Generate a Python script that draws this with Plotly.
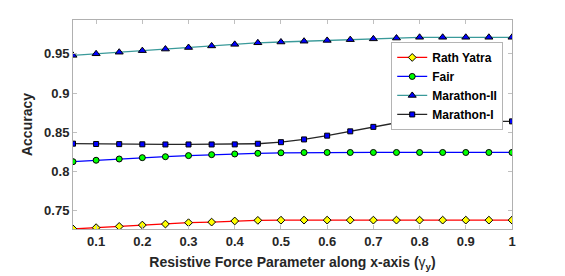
import plotly.graph_objects as go

x = [0.05, 0.1, 0.15, 0.2, 0.25, 0.3, 0.35, 0.4, 0.45, 0.5,
     0.55, 0.6, 0.65, 0.7, 0.75, 0.8, 0.85, 0.9, 0.95, 1.0]

rath_yatra = [0.7271, 0.7287, 0.7303, 0.7320, 0.7333, 0.7350, 0.7358, 0.7372, 0.7380, 0.7382,
              0.7383, 0.7383, 0.7383, 0.7383, 0.7383, 0.7383, 0.7383, 0.7383, 0.7383, 0.7383]
fair = [0.8127, 0.8145, 0.8161, 0.8178, 0.8190, 0.8204, 0.8216, 0.8225, 0.8233, 0.8240,
        0.8243, 0.8244, 0.8244, 0.8244, 0.8244, 0.8244, 0.8244, 0.8244, 0.8244, 0.8244]
marathon_2 = [0.948, 0.950, 0.952, 0.954, 0.956, 0.958, 0.960, 0.962, 0.964, 0.965,
              0.966, 0.967, 0.968, 0.969, 0.970, 0.971, 0.971, 0.971, 0.971, 0.971]
marathon_1 = [0.8356, 0.8352, 0.8350, 0.8348, 0.8346, 0.8346, 0.8346, 0.8347, 0.8355, 0.8375,
              0.8410, 0.8458, 0.8513, 0.8570, 0.8622, 0.8640, 0.8640, 0.8640, 0.8640, 0.8640]

x_ticks = [0.1, 0.2, 0.3, 0.4, 0.5, 0.6, 0.7, 0.8, 0.9, 1.0]
x_tick_labels = ["0.1", "0.2", "0.3", "0.4", "0.5", "0.6", "0.7", "0.8", "0.9", "1"]
y_ticks = [0.75, 0.8, 0.85, 0.9, 0.95]
y_tick_labels = ["0.75", "0.8", "0.85", "0.9", "0.95"]

fig = go.Figure()
series = [
    ("Rath Yatra", rath_yatra, "#ff0000", "diamond", "#ffff00", 6),
    ("Fair", fair, "#0000ff", "circle", "#00ff00", 6),
    ("Marathon-II", marathon_2, "#3a9a9a", "triangle-up", "#0000ff", 7),
    ("Marathon-I", marathon_1, "#262626", "square", "#0000ff", 5),
]
for name, ys, lc, sym, fc, sz in series:
    fig.add_trace(go.Scatter(
        x=x, y=ys, name=name, mode="lines+markers",
        line=dict(color=lc, width=1.3),
        marker=dict(symbol=sym, color=fc, size=sz, line=dict(color="black", width=1)),
    ))

font_fam = "Liberation Sans, Arial, sans-serif"
fig.update_layout(
    width=565, height=276,
    margin=dict(l=73, r=53, t=20, b=47, autoexpand=False),
    paper_bgcolor="white", plot_bgcolor="white",
    font=dict(family=font_fam, color="#262626", size=13),
    showlegend=True,
    legend=dict(x=0.98, y=0.895, xanchor="right", yanchor="top",
                bgcolor="white", bordercolor="#b4b4b4", borderwidth=1,
                font=dict(size=12, color="black", family=font_fam, weight="bold"),
                tracegroupgap=0, itemwidth=30),
    xaxis=dict(range=[0.05, 1.0], tickvals=x_ticks, ticktext=x_tick_labels,
               ticks="inside", ticklen=4, tickcolor="#c0c0c0", mirror="ticks",
               showline=True, linecolor="#b0b0b0", linewidth=1, showgrid=False, zeroline=False,
               automargin=False,
               tickfont=dict(size=13, weight="bold"),
               title=dict(text="Resistive Force Parameter along x-axis (<span style='font-weight:normal'>γ</span><sub>y</sub>)",
                          font=dict(size=14, weight="bold"), standoff=9)),
    yaxis=dict(range=[0.727, 0.993], tickvals=y_ticks, ticktext=y_tick_labels,
               ticks="inside", ticklen=4, tickcolor="#c0c0c0", mirror="ticks",
               showline=True, linecolor="#b0b0b0", linewidth=1, showgrid=False, zeroline=False,
               automargin=False,
               tickfont=dict(size=13, weight="bold"),
               title=dict(text="Accuracy", font=dict(size=14, weight="bold"), standoff=8)),
)

fig.write_html("out.html", config={"displayModeBar": False},
               post_script="document.body.style.margin='0';document.body.style.overflow='hidden';")
